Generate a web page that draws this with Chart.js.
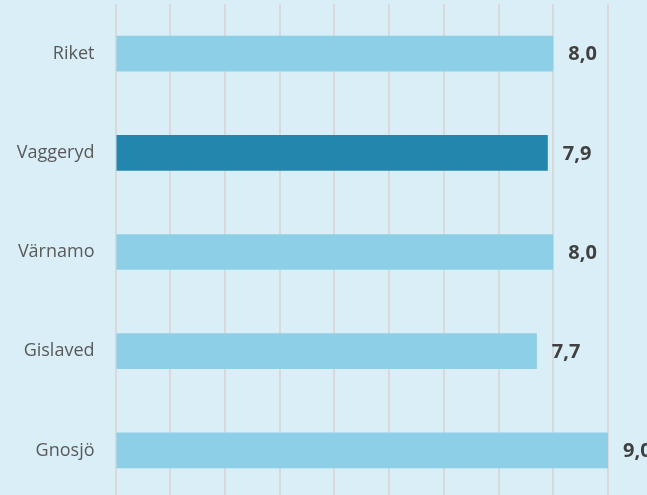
<!DOCTYPE html>
<html>
<head>
<meta charset="utf-8">
<script src="https://cdn.jsdelivr.net/npm/chart.js@4.4.1/dist/chart.umd.min.js"></script>
<style>
  html, body { margin: 0; padding: 0; background: #daeef7; overflow: hidden; }
  #wrap { position: relative; width: 647px; height: 500px; }
</style>
</head>
<body>
<div id="wrap"><canvas id="canvas"></canvas></div>
<script>
// values
let kommuner = ['Riket', 'Vaggeryd', 'Värnamo', 'Gislaved', 'Gnosjö'];
let varden = [8.0, 7.9, 8.0, 7.7, 9.0];
let farger = ['#8dcfe7', '#2386ad', '#8dcfe7', '#8dcfe7', '#8dcfe7'];

let ctx = document.getElementById('canvas').getContext('2d');

// writes the value to the right of each bar, like "8,0"
const valueLabels = {
  id: 'valueLabels',
  afterDatasetsDraw(chart) {
    let c = chart.ctx;
    let meta = chart.getDatasetMeta(0);
    c.save();
    c.font = 'bold 20px "Open Sans"';
    c.fillStyle = '#404040';
    c.textAlign = 'left';
    c.textBaseline = 'middle';
    meta.data.forEach((bar, i) => {
      c.fillText(varden[i].toFixed(1).replace('.', ','), bar.x + 15, bar.y + 1);
    });
    c.restore();
  }
};

let chart = new Chart(ctx, {
  type: 'bar',
  data: {
    labels: kommuner,
    datasets: [{
      data: varden,
      backgroundColor: farger,
      borderWidth: 0,
      categoryPercentage: 1,
      barPercentage: 0.36
    }]
  },
  options: {
    indexAxis: 'y',
    responsive: true,
    maintainAspectRatio: false,
    animation: false,
    layout: { padding: { top: 4, right: 39, bottom: 0, left: 0 } },
    plugins: { legend: { display: false }, tooltip: { enabled: false } },
    scales: {
      x: {
        min: 0,
        max: 9,
        ticks: { display: false, stepSize: 1 },
        grid: { color: '#d9d9d9', lineWidth: 2, drawTicks: false },
        border: { display: false },
        afterFit(scale) { scale.height = 0; }
      },
      y: {
        grid: { display: false, drawTicks: false },
        border: { display: false },
        ticks: { color: '#595959', font: { family: '"Open Sans"', size: 18 }, padding: 21 },
        afterFit(scale) {
          scale.width = 115.5;
          scale.paddingTop = 0;
          scale.paddingBottom = 0;
        }
      }
    }
  },
  plugins: [valueLabels]
});
</script>
</body>
</html>
